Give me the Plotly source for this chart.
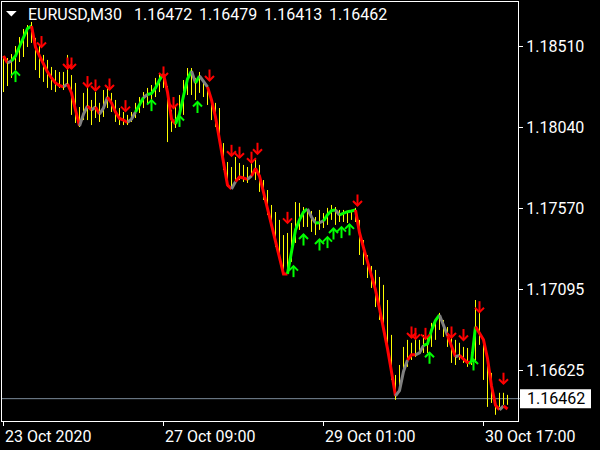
import plotly.graph_objects as go

# ---------------- data (M30 bars, sampled every 2nd bar) ----------------
bar_index = list(range(0, 254, 2))

bar_high = [
    1.18456, 1.18444, 1.18467, 1.18514, 1.18566, 1.18613, 1.18636, 1.18654, 1.18561, 1.18520,
    1.18462, 1.18433, 1.18392, 1.18374, 1.18363, 1.18363, 1.18462, 1.18345, 1.18299, 1.18159,
    1.18241, 1.18281, 1.18200, 1.18246, 1.18183, 1.18258, 1.18270, 1.18241, 1.18200, 1.18153,
    1.18130, 1.18113, 1.18130, 1.18183, 1.18217, 1.18246, 1.18270, 1.18287, 1.18328, 1.18357,
    1.18363, 1.18281, 1.18142, 1.18171, 1.18229, 1.18316, 1.18386, 1.18386, 1.18328, 1.18363,
    1.18316, 1.18287, 1.18217, 1.18183, 1.18153, 1.17949, 1.17839, 1.17810, 1.17868, 1.17833,
    1.17822, 1.17810, 1.17839, 1.17851, 1.17822, 1.17734, 1.17676, 1.17589, 1.17548, 1.17502,
    1.17414, 1.17426, 1.17484, 1.17606, 1.17601, 1.17577, 1.17560, 1.17554, 1.17519, 1.17560,
    1.17542, 1.17572, 1.17589, 1.17577, 1.17560, 1.17560, 1.17548, 1.17560, 1.17572, 1.17502,
    1.17385, 1.17298, 1.17234, 1.17211, 1.17170, 1.17124, 1.17036, 1.16833, 1.16600, 1.16658,
    1.16763, 1.16804, 1.16787, 1.16821, 1.16804, 1.16833, 1.16821, 1.16903, 1.16920, 1.16961,
    1.16920, 1.16879, 1.16833, 1.16804, 1.16787, 1.16763, 1.16757, 1.16734, 1.17036, 1.17007,
    1.16804, 1.16705, 1.16612, 1.16455, 1.16496, 1.16496, 1.16484,
]

bar_low = [
    1.18246, 1.18281, 1.18328, 1.18374, 1.18421, 1.18450, 1.18508, 1.18532, 1.18374, 1.18328,
    1.18305, 1.18270, 1.18258, 1.18246, 1.18270, 1.18258, 1.18281, 1.18113, 1.18066, 1.18043,
    1.18083, 1.18083, 1.18054, 1.18095, 1.18072, 1.18101, 1.18153, 1.18130, 1.18072, 1.18054,
    1.18054, 1.18054, 1.18072, 1.18095, 1.18124, 1.18153, 1.18177, 1.18188, 1.18217, 1.18246,
    1.18270, 1.17955, 1.18014, 1.18037, 1.18054, 1.18113, 1.18229, 1.18229, 1.18200, 1.18241,
    1.18217, 1.18171, 1.18083, 1.18043, 1.17938, 1.17793, 1.17694, 1.17694, 1.17734, 1.17734,
    1.17723, 1.17717, 1.17752, 1.17734, 1.17665, 1.17618, 1.17531, 1.17455, 1.17345, 1.17287,
    1.17199, 1.17199, 1.17258, 1.17368, 1.17444, 1.17461, 1.17461, 1.17432, 1.17414, 1.17444,
    1.17455, 1.17473, 1.17502, 1.17473, 1.17490, 1.17490, 1.17484, 1.17502, 1.17490, 1.17298,
    1.17240, 1.17164, 1.17106, 1.16995, 1.16920, 1.16862, 1.16746, 1.16571, 1.16455, 1.16513,
    1.16612, 1.16647, 1.16687, 1.16705, 1.16728, 1.16728, 1.16728, 1.16763, 1.16804, 1.16862,
    1.16821, 1.16763, 1.16670, 1.16658, 1.16687, 1.16670, 1.16647, 1.16658, 1.16670, 1.16775,
    1.16571, 1.16414, 1.16437, 1.16368, 1.16414, 1.16426, 1.16426,
]

line_value = [
    1.18456, 1.18415, 1.18427, 1.18456, 1.18511, 1.18564, 1.18616, 1.18630, 1.18508, 1.18456,
    1.18409, 1.18363, 1.18328, 1.18299, 1.18284, 1.18276, 1.18293, 1.18241, 1.18142, 1.18049,
    1.18118, 1.18165, 1.18142, 1.18159, 1.18118, 1.18153, 1.18217, 1.18183, 1.18130, 1.18092,
    1.18083, 1.18069, 1.18089, 1.18130, 1.18172, 1.18214, 1.18232, 1.18238, 1.18270, 1.18316,
    1.18351, 1.18246, 1.18089, 1.18060, 1.18118, 1.18223, 1.18322, 1.18369, 1.18299, 1.18340,
    1.18308, 1.18276, 1.18200, 1.18101, 1.17961, 1.17822, 1.17705, 1.17682, 1.17725, 1.17752,
    1.17746, 1.17738, 1.17758, 1.17801, 1.17758, 1.17665, 1.17572, 1.17473, 1.17368, 1.17275,
    1.17188, 1.17188, 1.17310, 1.17444, 1.17502, 1.17548, 1.17566, 1.17519, 1.17484, 1.17486,
    1.17496, 1.17533, 1.17556, 1.17560, 1.17531, 1.17542, 1.17550, 1.17554, 1.17560, 1.17428,
    1.17341, 1.17263, 1.17188, 1.17095, 1.16986, 1.16878, 1.16753, 1.16619, 1.16478, 1.16509,
    1.16620, 1.16687, 1.16717, 1.16717, 1.16728, 1.16772, 1.16781, 1.16860, 1.16917, 1.16949,
    1.16886, 1.16829, 1.16767, 1.16706, 1.16714, 1.16695, 1.16672, 1.16676, 1.16881, 1.16843,
    1.16805, 1.16696, 1.16536, 1.16423, 1.16397, 1.16420, 1.16402,
]

# r = falling (red), g = rising (green), n = neutral (gray)
line_state = list(
    "rrngggggrr" "rrrrrrnrrr" "nnrnrnnrrr" "rrnnggnggg" "grrrggggng"
    "nnrrrrrrnr" "rrnrrrrrrr" "rrgggggnng" "ngggnggggr" "rrrrrrrrrn"
    "nnrrnngggg" "nnrrnrrrgr" "rrrrrnr"
)

sell_arrow_bar = [19, 32, 34, 42, 46, 53, 61, 80, 85, 103, 114, 118, 124, 127, 142,
                  177, 204, 206, 211, 224, 230, 238, 250]
sell_arrow_price = [1.18540, 1.18415, 1.18415, 1.18307, 1.18287, 1.18293, 1.18167,
                    1.18363, 1.18185, 1.18345, 1.17907, 1.17896, 1.17867, 1.17919,
                    1.17517, 1.17618, 1.16850, 1.16842, 1.16842, 1.16850, 1.16835,
                    1.16997, 1.16581]
buy_arrow_bar = [6, 74, 88, 97, 145, 150, 158, 162, 165, 169, 173, 213, 235]
buy_arrow_price = [1.18336, 1.18167, 1.18075, 1.18156, 1.17201, 1.17385, 1.17356,
                   1.17370, 1.17420, 1.17428, 1.17444, 1.16697, 1.16658]

price_ticks = [1.18510, 1.18040, 1.17570, 1.17095, 1.16625]
price_tick_labels = ["1.18510", "1.18040", "1.17570", "1.17095", "1.16625"]
time_tick_bars = [0, 80, 160, 240]
time_tick_labels = ["23 Oct 2020", "27 Oct 09:00", "29 Oct 01:00", "30 Oct 17:00"]

symbol_title = "EURUSD,M30"
ohlc_values = ["1.16472", "1.16479", "1.16413", "1.16462"]
current_price = 1.16462
current_price_label = "1.16462"

# ---------------- layout helpers ----------------
W, H = 600, 450
ML, MR, MT, MB = 2, 82, 2, 29
PW, PH = W - ML - MR, H - MT - MB
Y_RANGE = [1.16332, 1.18770]
X_RANGE = [-0.75, 257.25]
PX_PER_BAR = PW / (X_RANGE[1] - X_RANGE[0])


def px_x(x):
    return (x - ML) / PW


def px_y(y):
    return (H - MB - y) / PH


def py_to_price(dy):
    return dy * (Y_RANGE[1] - Y_RANGE[0]) / PH


def px_to_bars(dx):
    return dx / PX_PER_BAR


FONT = "Roboto"

fig = go.Figure()

# bars
bx, by = [], []
for b, h, l in zip(bar_index, bar_high, bar_low):
    bx += [b, b, None]
    by += [l, h, None]
fig.add_trace(go.Scatter(x=bx, y=by, mode="lines",
                         line=dict(color="#FFFF00", width=1),
                         hoverinfo="skip", showlegend=False))

# coloured indicator line
colors = {"r": "#FF0000", "g": "#00FF00", "n": "#808080"}
runs = []
for j in range(1, len(line_value)):
    s = line_state[j]
    if runs and runs[-1][0] == s and runs[-1][1][-1] == j - 1:
        runs[-1][1].append(j)
    else:
        runs.append([s, [j - 1, j]])
for s, idx in runs:
    fig.add_trace(go.Scatter(
        x=[bar_index[i] for i in idx], y=[line_value[i] for i in idx],
        mode="lines", line=dict(color=colors[s], width=3),
        hoverinfo="skip", showlegend=False))


# arrows (stem + chevron head), anchored on bar / price
def arrow_paths(bars, prices, down):
    xs, ys = [], []
    half_h = py_to_price(5.5)
    arm_y = py_to_price(4.5)
    arm_x = px_to_bars(4.5)
    for b, p in zip(bars, prices):
        if down:
            top, tip = p + half_h, p - half_h
            head_y = tip + arm_y
        else:
            top, tip = p - half_h, p + half_h
            head_y = tip - arm_y
        xs += [b, b, None, b - arm_x, b, b + arm_x, None]
        ys += [top, tip, None, head_y, tip, head_y, None]
    return xs, ys


sx, sy = arrow_paths(sell_arrow_bar, sell_arrow_price, True)
fig.add_trace(go.Scatter(x=sx, y=sy, mode="lines",
                         line=dict(color="#FF0000", width=2),
                         hoverinfo="skip", showlegend=False))
gx, gy = arrow_paths(buy_arrow_bar, buy_arrow_price, False)
fig.add_trace(go.Scatter(x=gx, y=gy, mode="lines",
                         line=dict(color="#00FF00", width=2),
                         hoverinfo="skip", showlegend=False))

shapes = [
    # current price line
    dict(type="line", xref="paper", yref="y", x0=0, x1=px_x(520),
         y0=current_price, y1=current_price,
         line=dict(color="#7B8A9A", width=1), layer="below"),
    # current price box
    dict(type="rect", xref="paper", yref="y", x0=px_x(520), x1=px_x(591),
         y0=current_price - py_to_price(9.5), y1=current_price + py_to_price(9.5),
         fillcolor="#FFFFFF", line=dict(width=0), layer="above"),
    # header triangle
    dict(type="path", xref="paper", yref="paper",
         path=f"M {px_x(6)} {px_y(11)} L {px_x(16.7)} {px_y(11)} L {px_x(11.35)} {px_y(16.5)} Z",
         fillcolor="#FFFFFF", line=dict(width=0)),
]

annotations = [
    dict(text=symbol_title, xref="paper", yref="paper", x=px_x(26), y=px_y(15),
         xanchor="left", yanchor="middle", showarrow=False,
         font=dict(family=FONT, size=16, color="#FFFFFF")),
    dict(text=current_price_label, xref="paper", yref="y", x=px_x(525),
         y=current_price, xanchor="left", yanchor="middle", showarrow=False,
         font=dict(family=FONT, size=16, color="#000000")),
]
for k, v in enumerate(ohlc_values):
    annotations.append(dict(text=v, xref="paper", yref="paper", x=px_x(132 + 65 * k),
                            y=px_y(15), xanchor="left", yanchor="middle", showarrow=False,
                            font=dict(family=FONT, size=16, color="#FFFFFF")))
for b, t in zip(time_tick_bars, time_tick_labels):
    annotations.append(dict(text=t, xref="x", yref="paper", x=b, y=px_y(436),
                            xanchor="left", yanchor="middle", showarrow=False,
                            xshift=-1,
                            font=dict(family=FONT, size=16, color="#FFFFFF")))

fig.update_layout(
    width=W, height=H,
    margin=dict(l=ML, r=MR, t=MT, b=MB),
    paper_bgcolor="#000000", plot_bgcolor="#000000",
    showlegend=False,
    shapes=shapes, annotations=annotations,
    xaxis=dict(range=X_RANGE, showgrid=False, zeroline=False,
               showline=True, mirror=True, linecolor="#FFFFFF", linewidth=1,
               ticks="outside", ticklen=4, tickcolor="#FFFFFF",
               tickvals=time_tick_bars, showticklabels=False, fixedrange=True),
    yaxis=dict(range=Y_RANGE, side="right", showgrid=False, zeroline=False,
               showline=True, mirror=True, linecolor="#FFFFFF", linewidth=1,
               ticks="outside", ticklen=4, tickcolor="#FFFFFF",
               tickvals=price_ticks, ticktext=price_tick_labels,
               tickfont=dict(family=FONT, size=16, color="#FFFFFF"),
               fixedrange=True),
)

fig.write_html("out.html", config={"displayModeBar": False},
               post_script="document.body.style.margin='0';document.body.style.background='#000';")
